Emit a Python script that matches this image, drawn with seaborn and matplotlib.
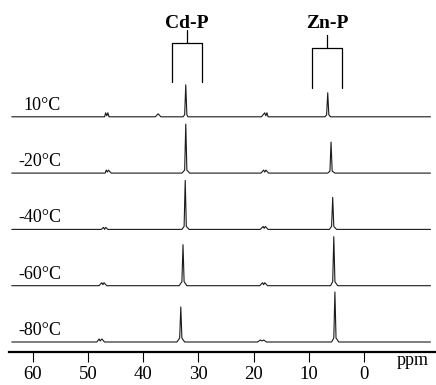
import numpy as np
import pandas as pd
import matplotlib
matplotlib.use("Agg")
import matplotlib.pyplot as plt
import seaborn as sns

# Temperatures, top spectrum first
temps = ["10°C", "-20°C", "-40°C", "-60°C", "-80°C"]

# Spectra: ppm and intensity (pixel-ish units)
ppm_10 = [63.8, 48.0, 47.0, 46.8, 46.6, 46.4, 46.2, 45.6, 37.8, 37.3, 36.8, 32.8, 32.5, 32.3, 32.1, 31.9, 31.5,
          18.6, 18.0, 17.8, 17.6, 17.4, 16.8, 7.1, 6.8, 6.6, 6.4, 6.1, -12.0]
int_10 = [0, 0, 0, 4, 1, 4, 0, 0, 0, 3, 0, 0, 2, 32, 2, 0, 0,
          0, 4, 1, 4, 0, 0, 0, 2, 24, 2, 0, 0]

ppm_m20 = [63.8, 47.4, 46.9, 46.7, 46.5, 46.3, 45.8, 33.0, 32.5, 32.3, 32.1, 31.6,
           18.7, 18.2, 18.0, 17.8, 17.3, 6.6, 6.2, 6.0, 5.8, 5.3, -12.0]
int_m20 = [0, 0, 0, 3, 1, 3, 0, 0, 3, 49, 3, 0,
           0, 3, 1, 3, 0, 0, 2, 31, 2, 0, 0]

ppm_m40 = [63.8, 47.6, 47.2, 47.0, 46.8, 46.4, 33.0, 32.6, 32.4, 32.2, 31.7,
           18.8, 18.3, 18.1, 17.9, 17.4, 6.3, 5.9, 5.7, 5.5, 5.0, -12.0]
int_m40 = [0, 0, 2, 0, 2, 0, 0, 3, 49, 3, 0,
           0, 3, 1, 3, 0, 0, 3, 32, 3, 0, 0]

ppm_m60 = [63.8, 48.0, 47.5, 47.3, 47.1, 46.6, 33.5, 33.0, 32.8, 32.6, 32.1,
           18.9, 18.4, 18.2, 18.0, 17.5, 6.1, 5.7, 5.5, 5.3, 4.8, -12.0]
int_m60 = [0, 0, 3, 1, 3, 0, 0, 4, 41, 4, 0,
           0, 3, 1, 3, 0, 0, 4, 49, 4, 0, 0]

ppm_m80 = [63.8, 48.4, 48.0, 47.8, 47.5, 47.0, 33.9, 33.4, 33.2, 33.0, 32.5,
           19.3, 18.8, 18.5, 18.2, 17.7, 5.9, 5.5, 5.3, 5.1, 4.6, -12.0]
int_m80 = [0, 0, 3, 1, 3, 0, 0, 4, 35, 4, 0,
           0, 2, 1, 2, 0, 0, 4, 50, 4, 0, 0]

spectra = [(ppm_10, int_10), (ppm_m20, int_m20), (ppm_m40, int_m40),
           (ppm_m60, int_m60), (ppm_m80, int_m80)]

# Coupling brackets (ppm ranges) and labels
bracket_labels = ["Cd-P", "Zn-P"]
bracket_left = [34.8, 9.4]
bracket_right = [29.3, 4.0]

xticks = [60, 50, 40, 30, 20, 10, 0]

# layout
spacing = 56.3
base = 10

rows = []
for i, (t, (p, v)) in enumerate(zip(temps, spectra)):
    off = base + spacing * (len(temps) - 1 - i)
    for a, b in zip(p, v):
        rows.append({"temp": t, "ppm": a, "y": b + off})
df = pd.DataFrame(rows)

sns.set_style("white")
plt.rcParams["font.family"] = ["Liberation Serif", "DejaVu Serif"]
plt.rcParams["text.color"] = "black"
plt.rcParams["xtick.color"] = "black"

fig = plt.figure(figsize=(4.36, 3.85), dpi=100)
ax = fig.add_axes([9 / 436, 33 / 385, 427 / 436, 352 / 385])

sns.lineplot(data=df, x="ppm", y="y", units="temp", estimator=None, sort=False,
             color="#1a1a1a", linewidth=0.8, ax=ax, legend=False)

ax.set_xlim(64.3, -13.0)
ax.set_ylim(0, 352)

# temperature labels
for i, t in enumerate(temps):
    off = base + spacing * (len(temps) - 1 - i)
    ax.text(54.9, off + 7, t, ha="right", va="baseline", fontsize=13, color="black")

# brackets
stem_top = [322, 317]
bar_y = [309, 304]
leg_bottom = [270, 264]
for lab, l, r, st, by, lb in zip(bracket_labels, bracket_left, bracket_right, stem_top, bar_y, leg_bottom):
    mid = (l + r) / 2
    ax.plot([l, l, r, r], [lb, by, by, lb], color="black", lw=0.9)
    ax.plot([mid, mid], [by, st], color="black", lw=0.9)
    ax.text(mid, 324, lab, ha="center", va="baseline", fontsize=14, fontweight="bold", color="black")

ax.text(-5.8, -13, "ppm", ha="left", va="baseline", fontsize=13, clip_on=False, color="black")

for s in ["top", "right", "left"]:
    ax.spines[s].set_visible(False)
ax.spines["bottom"].set_linewidth(1.6)
ax.spines["bottom"].set_color("black")
ax.set_xticks(xticks)
ax.set_xticklabels([str(x) for x in xticks])
ax.tick_params(axis="x", direction="out", length=7.5, width=0.8, pad=2.5, labelsize=13.5,
               bottom=True, colors="black")
ax.set_yticks([])
ax.set_xlabel("")
ax.set_ylabel("")

fig.savefig("out.png", dpi=100)
